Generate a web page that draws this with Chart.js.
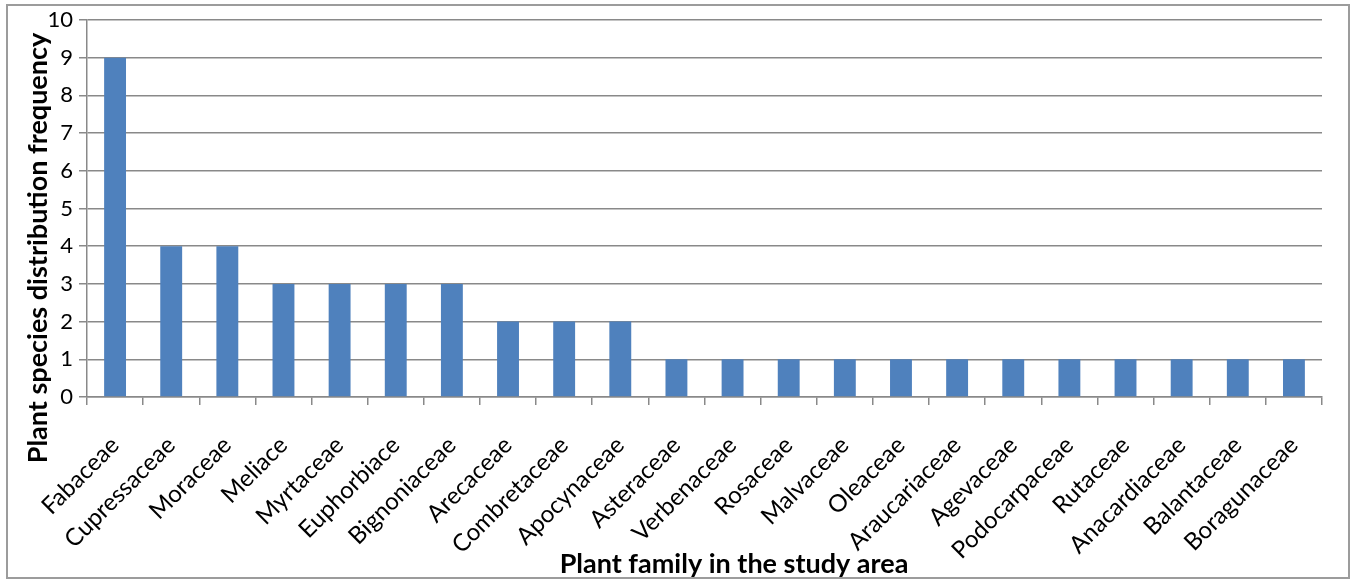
<!DOCTYPE html>
<html>
<head>
<meta charset="utf-8">
<script src="https://cdn.jsdelivr.net/npm/chart.js@4.4.1/dist/chart.umd.min.js"></script>
<style>
  html, body { margin: 0; padding: 0; background: #fff; }
  #wrap { position: relative; width: 1353px; height: 581px; }
</style>
</head>
<body>
<div id="wrap"><canvas id="c" width="1353" height="581"></canvas></div>
<script>
// Plant families and how many species each contributes
const families = [
  'Fabaceae', 'Cupressaceae', 'Moraceae', 'Meliace', 'Myrtaceae', 'Euphorbiace',
  'Bignoniaceae', 'Arecaceae', 'Combretaceae', 'Apocynaceae', 'Asteraceae',
  'Verbenaceae', 'Rosaceae', 'Malvaceae', 'Oleaceae', 'Araucariaceae', 'Agevaceae',
  'Podocarpaceae', 'Rutaceae', 'Anacardiaceae', 'Balantaceae', 'Boragunaceae'
];
const frequency = [9, 4, 4, 3, 3, 3, 3, 2, 2, 2, 1, 1, 1, 1, 1, 1, 1, 1, 1, 1, 1, 1];
const yTicks = [0, 1, 2, 3, 4, 5, 6, 7, 8, 9, 10];

const yTitle = 'Plant species distribution frequency';
const xTitle = 'Plant family in the study area';

const FONT = 'Lato, "Open Sans", sans-serif';
const GRID = '#898989';

// Frame around the whole figure plus the two axis titles
const decor = {
  id: 'decor',
  beforeDraw(chart) {
    const ctx = chart.ctx;
    ctx.save();
    ctx.fillStyle = '#fff';
    ctx.fillRect(0, 0, chart.width, chart.height);
    ctx.strokeStyle = '#9c9c9c';
    ctx.lineWidth = 2;
    ctx.strokeRect(7, 5, 1342, 573);
    ctx.restore();
  },
  afterDraw(chart) {
    const ctx = chart.ctx;
    ctx.save();
    ctx.fillStyle = '#000';
    ctx.font = 'bold 27px ' + FONT;
    ctx.textAlign = 'center';
    ctx.textBaseline = 'alphabetic';
    ctx.fillText(xTitle, 734, 573);
    ctx.translate(47, 248);
    ctx.rotate(-Math.PI / 2);
    ctx.fillText(yTitle, 0, 0);
    ctx.restore();
  }
};

new Chart(document.getElementById('c'), {
  type: 'bar',
  data: {
    labels: families,
    datasets: [{
      data: frequency,
      backgroundColor: '#4F81BD',
      borderWidth: 0,
      categoryPercentage: 1,
      barPercentage: 0.39
    }]
  },
  options: {
    responsive: false,
    animation: false,
    events: [],
    layout: { padding: { top: 20, right: 31, left: 0, bottom: 0 } },
    plugins: { legend: { display: false }, tooltip: { enabled: false } },
    scales: {
      x: {
        offset: true,
        grid: {
          offset: true,
          drawOnChartArea: false,
          drawTicks: true,
          tickLength: 8,
          color: GRID,
          lineWidth: 1.5
        },
        border: { color: GRID, width: 1.5 },
        ticks: {
          color: '#000',
          font: { family: FONT, size: 24 },
          minRotation: 45,
          maxRotation: 45,
          autoSkip: false,
          padding: 26
        },
        afterFit(scale) { scale.height = 184; }
      },
      y: {
        min: 0,
        max: 10,
        afterBuildTicks(scale) { scale.ticks = yTicks.map(v => ({ value: v })); },
        grid: {
          color: GRID,
          lineWidth: 1.5,
          tickLength: 8
        },
        border: { color: GRID, width: 1.5 },
        ticks: {
          color: '#000',
          font: { family: FONT, size: 22 },
          padding: 6
        },
        afterFit(scale) { scale.width = 87; }
      }
    }
  },
  plugins: [decor]
});
</script>
</body>
</html>
